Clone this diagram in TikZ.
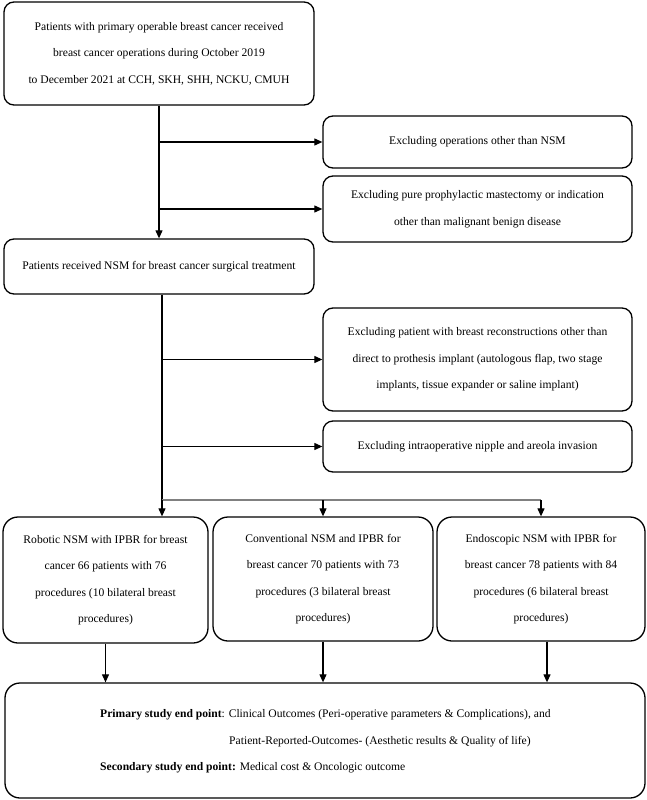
\documentclass[tikz,border=0pt]{standalone}
\usepackage{fontspec}
\setmainfont{Liberation Serif}
\usetikzlibrary{arrows.meta, positioning, calc}

\begin{document}
\begin{tikzpicture}[
    x=1pt, y=-1pt,
    box/.style={draw, line width=1.3pt, rounded corners=10pt, align=center, inner sep=0pt, font=\fontsize{11.6}{26.5}\selectfont},
    group/.style={box, rounded corners=15pt},
    arrow/.style={-{Triangle[length=8pt, width=7pt]}, line width=1.1pt}
]
    \useasboundingbox (0,0) rectangle (647,800);

    % Screening steps
    \node[box, minimum width=310pt, minimum height=103pt] (start) at (159, 53.5) {Patients with primary operable breast cancer received\\breast cancer operations during October 2019\\to December 2021 at CCH, SKH, SHH, NCKU, CMUH};
    \node[box, minimum width=310pt, minimum height=55pt] (nsm) at (159, 266.5) {Patients received NSM for breast cancer surgical treatment};

    % Exclusions
    \node[box, minimum width=309pt, minimum height=52pt] (ex1) at (477.5, 142) {Excluding operations other than NSM};
    \node[box, minimum width=309pt, minimum height=66pt] (ex2) at (477.5, 209) {Excluding pure prophylactic mastectomy or indication\\other than malignant benign disease};
    \node[box, minimum width=309pt, minimum height=103pt] (ex3) at (477.5, 359.5) {Excluding patient with breast reconstructions other than\\direct to prothesis implant (autologous flap, two stage\\implants, tissue expander or saline implant)};
    \node[box, minimum width=309pt, minimum height=51pt] (ex4) at (477.5, 446.5) {Excluding intraoperative nipple and areola invasion};

    % Study groups
    \node[group, minimum width=205pt, minimum height=126pt] (robot) at (105.5, 580) {Robotic NSM with IPBR for breast\\cancer 66 patients with 76\\procedures (10 bilateral breast\\procedures)};
    \node[group, minimum width=220pt, minimum height=124pt] (conv) at (323, 579) {Conventional NSM and IPBR for\\breast cancer 70 patients with 73\\procedures (3 bilateral breast\\procedures)};
    \node[group, minimum width=208pt, minimum height=124pt] (endo) at (541, 579) {Endoscopic NSM with IPBR for\\breast cancer 78 patients with 84\\procedures (6 bilateral breast\\procedures)};

    % End points
    \node[group, minimum width=640pt, minimum height=115pt] (outcome) at (325, 740.5) {};
    \node[anchor=west, align=left, inner sep=0pt, font=\fontsize{11.6}{26.5}\selectfont] (goals) at (100, 741.5) {\textbf{Primary study end point}: Clinical Outcomes (Peri-operative parameters \& Complications), and\\\hspace*{129pt}Patient-Reported-Outcomes- (Aesthetic results \& Quality of life)\\\textbf{Secondary study end point:} Medical cost \& Oncologic outcome};

    % Arrows
    \draw[arrow] (start) -- (nsm);
    \coordinate (b1) at (start.south |- ex1.west);
    \coordinate (b2) at (start.south |- ex2.west);
    \draw[arrow] (b1) -- (ex1.west);
    \draw[arrow] (b2) -- (ex2.west);

    \coordinate (split) at (162, 500);
    \draw[line width=1.1pt] (nsm.south -| split) -- (split);
    \coordinate (b3) at (split |- ex3.west);
    \coordinate (b4) at (split |- ex4.west);
    \draw[arrow] (b3) -- (ex3.west);
    \draw[arrow] (b4) -- (ex4.west);

    \draw[line width=1.1pt, gray] (split) -- (split -| endo.north);
    \draw[arrow] (split) -- (split |- robot.north);
    \draw[arrow] (split -| conv.north) -- (conv.north);
    \draw[arrow] (split -| endo.north) -- (endo.north);

    \draw[arrow] (robot.south) -- (robot.south |- outcome.north);
    \draw[arrow] (conv.south) -- (conv.south |- outcome.north);
    \draw[arrow] ([xshift=6pt]endo.south) -- ([xshift=6pt]endo.south |- outcome.north);
\end{tikzpicture}
\end{document}
